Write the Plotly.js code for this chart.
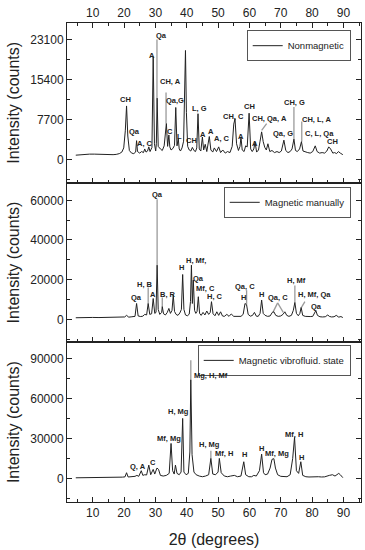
<!DOCTYPE html>
<html><head><meta charset="utf-8">
<script src="https://cdn.plot.ly/plotly-3.0.1.min.js"></script>
<style>html,body{margin:0;padding:0;background:#fff;} #chart{width:365px;height:550px;}</style>
</head><body><div id="chart"></div>
<script>
// ---------- Nonmagnetic (top panel) ----------
const nonmagX = [4.6,6,7.5,9,10.5,12,13.5,15,16.5,17.5,18.5,19.3,19.9,20.4,20.8,21.2,21.7,22.4,23.1,23.7,24.0,24.3,25.0,25.6,26.2,26.6,27.0,27.5,27.9,28.3,28.9,29.3,29.7,30.1,30.3,30.55,30.9,31.6,32.2,32.8,33.2,33.5,33.9,34.3,34.6,35.0,35.6,36.1,36.5,36.9,37.3,37.6,38.0,38.5,39.0,39.35,39.6,39.9,40.3,40.8,41.3,41.8,42.3,42.8,43.2,43.6,44.0,44.5,45.0,45.4,45.9,46.4,47.2,47.7,48.3,48.8,49.5,50.2,50.8,51.5,52.3,53.0,53.8,54.5,55.0,55.4,55.9,56.5,57.0,57.3,57.7,58.3,58.8,59.3,59.9,60.4,60.9,61.4,61.8,62.3,62.9,63.4,63.9,64.4,64.9,65.4,65.9,66.5,67.2,68.0,68.8,69.5,70.2,71.0,71.6,72.3,73.0,73.6,74.2,74.7,75.3,76.0,76.6,77.1,77.8,78.6,79.4,80.2,81.0,81.6,82.4,83.2,84.0,84.7,85.3,85.9,86.6,87.2,87.8,88.4,89.0,89.8];
const nonmagY = [800,900,950,1000,1000,950,900,850,900,950,1100,1400,2200,5500,10300,4500,1700,1200,1100,1400,3600,1500,1200,1500,1300,2000,1400,1600,2400,1500,2300,19800,3000,1600,3000,11800,2500,2000,1700,2600,4500,6900,2500,4700,2400,1800,2100,2700,10000,2600,4000,2000,1600,2200,3500,13500,21000,9000,2500,1800,1600,2300,1700,1500,2200,8800,2000,1600,4300,1800,2900,1500,4400,1800,1400,2200,1500,2400,1300,1800,1200,1500,1300,2500,6800,7800,3000,1700,2500,4300,1800,1500,2600,2400,8900,2000,1500,2000,3300,1400,1800,3500,5300,3400,2300,1800,3000,1500,1700,1300,1500,1300,1600,3700,1700,1300,1500,2000,3900,1700,1500,2000,3400,1600,1400,1300,1200,1500,2600,1500,1200,1300,1200,1600,2400,2000,1200,1300,1100,1500,1200,900];
const nonmagLabel = ["CH","Qa","A, C","A","Qa","CH, A","C","Qa,G","L","CH","L, G","A","A","A, C","CH, C","A","CH","A","CH, Qa, A","Qa, G","CH, G","CH, L, A","C, L, Qa","CH"];
const nonmagLabelX = [20.55,23.4,26.8,28.9,31.9,34.8,34.6,36.4,37.6,41.5,44.0,45.2,47.6,51.1,54.8,57.2,60.1,61.8,66.5,70.8,74.5,81.5,82.3,86.6];
const nonmagLabelY = [11580,5400,3150,20070,23930,14920,5280,11390,4440,3670,9780,4760,5280,3990,8170,4440,10230,3150,7850,4950,10870,7650,4950,3350];
const nonmagLeadX0 = [30.5,33.4,74.2,76.7,63.9];
const nonmagLeadY0 = [11800,6900,3900,3400,5600];
const nonmagLeadX1 = [30.5,33.4,74.2,76.7,65.5];
const nonmagLeadY1 = [23100,12900,10100,7300,6900];

// ---------- Magnetic manually (middle panel) ----------
const manX = [4.6,6,8,10,12,14,16,17.5,19,20.2,20.8,21.5,22.5,23.5,24.0,24.5,25.3,26.0,26.6,27.2,27.7,28.2,28.8,29.3,29.8,30.2,30.55,30.9,31.4,32.0,32.2,32.6,33.2,33.8,34.3,34.8,35.3,35.7,36.1,36.6,37.2,37.8,38.3,38.7,39.1,39.6,40.2,40.8,41.2,41.5,41.8,42.1,42.5,42.9,43.3,43.7,44.1,44.6,45.2,45.8,46.4,47.0,47.5,47.9,48.4,49.0,49.6,50.2,50.8,51.4,52.0,52.8,53.5,54.2,55.0,55.8,56.6,57.3,58.0,58.6,59.1,59.6,60.3,61.0,61.6,62.2,62.8,63.4,63.9,64.4,65.0,65.8,66.6,67.3,67.8,68.4,69.2,70.0,70.7,71.3,71.9,72.6,73.4,74.0,74.5,75.0,75.6,76.1,76.5,77.0,77.8,78.6,79.4,80.2,80.8,81.2,81.7,82.5,83.3,84.2,85.0,85.5,86.2,87.0,87.7,88.5,89.2,89.8];
const manY = [800,900,900,950,900,1000,1100,1000,1300,1200,2000,1100,1300,1500,8000,1700,1400,1600,2500,2200,8000,2500,2800,10500,3000,3500,27300,5000,2500,3500,6400,2800,2200,3500,5500,3000,4500,12200,4000,2500,2000,3200,5000,22600,5000,2200,1800,2600,9000,27300,8000,19800,4500,3000,4000,11400,3000,2000,3500,2200,4200,2500,3500,8900,2800,1800,3800,2000,3800,1700,1500,2500,1500,2700,1500,1400,1600,1500,2500,8000,7300,2500,1600,2000,3500,1600,1500,3000,9700,3000,2000,1500,1700,3500,3800,2000,1500,1700,2500,3800,2000,1500,2000,4500,8500,3000,1800,3000,6000,2000,1500,1300,1400,1500,3000,4400,2000,1300,1200,1300,2200,1500,1200,1300,2000,1100,1400,900];
const manLabel = ["Qa","H, B","A","Qa","B, R","H","H, Mf,","Qa","Mf, C","H, C","Qa, C","H","H","Qa, C","H, Mf","H, Mf, Qa","Qa"];
const manLabelX = [23.95,26.6,29.3,30.55,34.1,38.3,43.1,43.7,46.1,49.0,58.6,58.2,63.9,69.2,75.1,80.9,81.5];
const manLabelY = [11070,17780,12750,63060,12750,26160,29850,20630,15600,11400,16430,11070,12750,11070,19790,12580,6710];
const manLeadX0 = [27.7,30.55,32.2,59.1,67.5,69.0,74.5,76.6];
const manLeadY0 = [8000,27300,6400,7300,3500,8300,8500,6000];
const manLeadX1 = [27.7,30.55,32.2,59.1,69.0,70.8,74.5,77.7];
const manLeadY1 = [16000,60500,11000,14700,8300,3500,17000,8900];

// ---------- Magnetic vibrofluid. state (bottom panel) ----------
const vibX = [4.6,6,8,10,12,14,16,18,19.5,20.3,20.8,21.3,22.5,23.5,24.1,24.7,25.5,26.0,26.6,27.2,27.9,28.5,29.3,29.8,30.5,31.0,31.6,32.5,33.5,34.4,35.0,35.5,36.0,36.4,36.9,37.6,38.2,38.7,39.1,39.8,40.5,41.0,41.3,41.7,42.3,43.0,44.0,45.0,46.0,47.0,47.7,48.3,49.2,50.0,50.4,51.0,52.0,53.0,54.0,55.2,56.2,57.3,58.2,58.8,59.8,60.7,61.4,62.2,63.2,63.9,64.5,65.0,65.8,66.6,67.2,67.8,68.3,69.0,70.0,71.0,72.0,73.0,73.8,74.4,75.0,75.7,76.4,77.0,78.0,79.0,80.0,81.0,82.0,83.0,84.0,85.5,86.5,87.3,88.0,88.5,89.0,89.8];
const vibY = [700,700,750,750,700,800,800,900,1200,1400,4500,1300,1500,1800,2500,1800,6000,2500,3000,2800,10200,3000,7000,3500,8000,7000,2500,2000,2500,4000,26400,6000,3500,10200,4000,3000,5000,45100,5000,3000,4000,20000,74000,18000,5000,3000,2000,1500,2000,3000,15200,3500,3000,5000,15200,4500,2000,1500,2000,2500,1500,2000,12700,3000,1500,1500,2500,2000,6000,18400,4500,3000,3500,8000,14500,15000,8000,3000,1800,1500,1500,3000,15000,30900,6000,4000,12700,2500,1500,1300,1500,1200,1500,1300,1400,2500,3000,2000,3500,4000,3000,800];
const vibLabel = ["Q, A","C","Mf, Mg","H, Mg","Mg, H, Mf","H, Mg","Mf, H","H","H","Mf, Mg","Mf, H","H"];
const vibLabelX = [24.5,29.1,34.4,37.3,47.9,47.4,51.9,58.3,63.9,68.9,74.3,76.7];
const vibLabelY = [9470,11960,30150,50590,77500,25670,18940,18440,22680,18940,33390,15700];
const vibLeadX0 = [41.3,47.7];
const vibLeadY0 = [74000,15200];
const vibLeadX1 = [41.3,47.7];
const vibLeadY1 = [88700,20900];

// ---------- build ----------
function leaders(x0, y0, x1, y1) {
  const xs = [], ys = [];
  for (let i = 0; i < x0.length; i++) { xs.push(x0[i], x1[i], null); ys.push(y0[i], y1[i], null); }
  return {x: xs, y: ys};
}
const lineColor = '#222';
const greyColor = '#9a9a9a';
const panels = [
  {name: 'Nonmagnetic', x: nonmagX, y: nonmagY, lab: nonmagLabel, lx: nonmagLabelX, ly: nonmagLabelY,
   ld: leaders(nonmagLeadX0, nonmagLeadY0, nonmagLeadX1, nonmagLeadY1), xa: 'x3', ya: 'y3', leg: 'legend'},
  {name: 'Magnetic manually', x: manX, y: manY, lab: manLabel, lx: manLabelX, ly: manLabelY,
   ld: leaders(manLeadX0, manLeadY0, manLeadX1, manLeadY1), xa: 'x2', ya: 'y2', leg: 'legend2'},
  {name: 'Magnetic vibrofluid. state', x: vibX, y: vibY, lab: vibLabel, lx: vibLabelX, ly: vibLabelY,
   ld: leaders(vibLeadX0, vibLeadY0, vibLeadX1, vibLeadY1), xa: 'x', ya: 'y', leg: 'legend3'}
];
const traces = [];
const annotations = [];
panels.forEach(p => {
  traces.push({x: p.ld.x, y: p.ld.y, xaxis: p.xa, yaxis: p.ya, mode: 'lines', showlegend: false,
    line: {color: greyColor, width: 1.3}, hoverinfo: 'skip'});
  traces.push({x: p.x, y: p.y, xaxis: p.xa, yaxis: p.ya, mode: 'lines', name: p.name, legend: p.leg,
    line: {color: lineColor, width: 1}});
  p.lab.forEach((t, i) => {
    annotations.push({x: p.lx[i], y: p.ly[i], xref: p.xa, yref: p.ya, text: '<b>' + t + '</b>',
      showarrow: false, font: {family: 'Liberation Sans, Arial, sans-serif', size: 7.5, color: '#222'}});
  });
});

const xRange = [1.8, 95.6];
const tickFont = {family: 'Liberation Sans, Arial, sans-serif', size: 12, color: '#222'};
const titleFont = {family: 'Liberation Sans, Arial, sans-serif', size: 16, color: '#222'};
function xax(extra) {
  return Object.assign({range: xRange, dtick: 10, tick0: 0, ticks: 'inside', ticklen: 5, tickwidth: 1,
    tickcolor: lineColor, showline: true, linecolor: lineColor, linewidth: 1, showgrid: false, zeroline: false,
    minor: {dtick: 5, ticks: 'inside', ticklen: 3, tickcolor: lineColor}, tickfont: tickFont}, extra);
}
function yax(extra) {
  return Object.assign({ticks: 'inside', ticklen: 5, tickwidth: 1, tickcolor: lineColor, showline: true,
    linecolor: lineColor, linewidth: 1, mirror: 'ticks', showgrid: false, zeroline: false, tickfont: tickFont,
    tickformat: 'd', title: {text: 'Intensity (counts)', font: titleFont, standoff: 6}}, extra);
}
const legBase = {xref: 'paper', yref: 'paper', xanchor: 'right', yanchor: 'top', x: 0.965,
  bgcolor: '#fff', bordercolor: '#555', borderwidth: 1, itemwidth: 30,
  font: {family: 'Liberation Sans, Arial, sans-serif', size: 9.5, color: '#222'}};

const layout = {
  width: 365, height: 550,
  margin: {l: 67, r: 4, t: 23, b: 48},
  paper_bgcolor: '#fff', plot_bgcolor: '#fff',
  showlegend: true,
  xaxis: xax({anchor: 'y', mirror: true, title: {text: '2θ (degrees)', font: titleFont, standoff: 14}}),
  xaxis2: xax({anchor: 'y2', matches: 'x', mirror: true, showticklabels: false}),
  xaxis3: xax({anchor: 'y3', matches: 'x', side: 'top', mirror: 'ticks', showticklabels: true}),
  yaxis: yax({domain: [0, 0.3333], range: [-17400, 102000], dtick: 30000, tick0: 0,
    minor: {dtick: 15000, ticks: 'inside', ticklen: 3, tickcolor: lineColor}}),
  yaxis2: yax({domain: [0.3333, 0.6667], range: [-11600, 68900], dtick: 20000, tick0: 0,
    minor: {dtick: 10000, ticks: 'inside', ticklen: 3, tickcolor: lineColor}}),
  yaxis3: yax({domain: [0.6667, 1], range: [-4500, 26300], dtick: 7700, tick0: 0,
    minor: {dtick: 3850, ticks: 'inside', ticklen: 3, tickcolor: lineColor}}),
  legend: Object.assign({}, legBase, {y: 0.985}),
  legend2: Object.assign({}, legBase, {y: 0.658}),
  legend3: Object.assign({}, legBase, {y: 0.328}),
  annotations: annotations
};
Plotly.newPlot('chart', traces, layout, {staticPlot: true, displayModeBar: false});
</script></body></html>
